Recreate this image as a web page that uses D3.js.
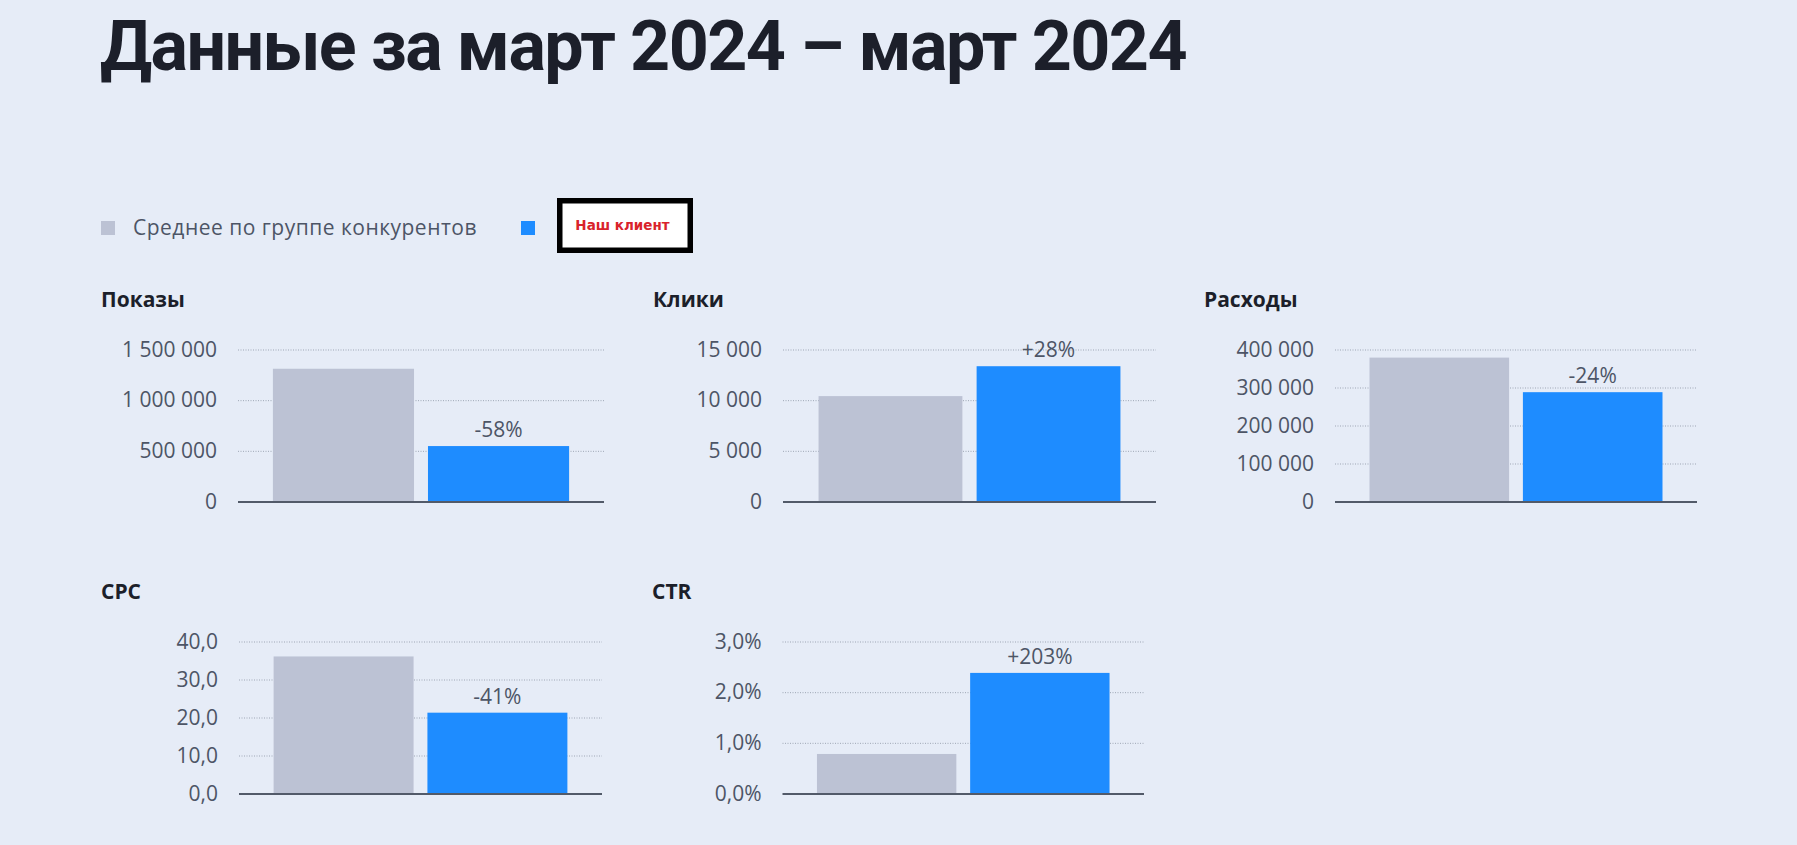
<!DOCTYPE html>
<html>
<head>
<meta charset="utf-8">
<script src="https://cdn.jsdelivr.net/npm/d3@7"></script>
<style>
  html, body { margin: 0; padding: 0; background: #e6ecf7; }
  svg { display: block; }
</style>
</head>
<body>
<svg id="chart" width="1797" height="845"></svg>
<script>
// ---------- DATA ----------
const pageTitle = "Данные за март 2024 – март 2024";
const seriesNames = ["Среднее по группе конкурентов", "Наш клиент"];
const metrics = ["Показы", "Клики", "Расходы", "CPC", "CTR"];
const competitorValues = [1315000, 10450, 380000, 36.2, 0.79];
const clientValues = [552000, 13400, 289000, 21.4, 2.39];
const changeLabels = ["-58%", "+28%", "-24%", "-41%", "+203%"];
const tickValues = [
  [0, 500000, 1000000, 1500000],
  [0, 5000, 10000, 15000],
  [0, 100000, 200000, 300000, 400000],
  [0, 10, 20, 30, 40],
  [0, 1, 2, 3]
];
const tickKinds = ["int", "int", "int", "dec", "pct"];

// ---------- LAYOUT ----------
const layout = [
  { left: 238, right: 604, top: 350, bottom: 502, titleX: 101, titleY: 307 },
  { left: 783, right: 1156, top: 350, bottom: 502, titleX: 653, titleY: 307 },
  { left: 1335, right: 1697, top: 350, bottom: 502, titleX: 1204, titleY: 307 },
  { left: 239, right: 602, top: 642, bottom: 794, titleX: 101, titleY: 599 },
  { left: 782.5, right: 1144, top: 642, bottom: 794, titleX: 652, titleY: 599 }
];
const colors = { competitor: "#bcc2d4", client: "#1e8cff", text: "#4d5566", title: "#1c1f2a", grid: "#9ea6b5", axis: "#525a69" };
const font = "'Open Sans', 'Noto Sans', sans-serif";

const ru = d3.formatLocale({ decimal: ",", thousands: "\u00a0", grouping: [3], currency: ["", " ₽"] });
const fmt = {
  int: ru.format(",d"),
  dec: ru.format(",.1f"),
  pct: v => ru.format(",.1f")(v) + "%"
};

// stretch/squeeze a text to a measured width by letter-spacing
function fitWidth(sel, target) {
  const node = sel.node();
  const w = node.getComputedTextLength();
  const n = sel.text().length;
  if (n > 1) sel.attr("letter-spacing", (target - w) / n);
}

const svg = d3.select("#chart");

// Title
const title = svg.append("text")
  .attr("x", 100).attr("y", 70)
  .attr("font-family", "Roboto, 'Open Sans', sans-serif").attr("font-weight", 700)
  .attr("font-size", 70)
  .attr("fill", colors.title)
  .text(pageTitle);
fitWidth(title, 1086);

// Legend
const lg = svg.append("g");
lg.append("rect").attr("x", 101).attr("y", 221).attr("width", 14).attr("height", 14).attr("fill", colors.competitor);
const legText = lg.append("text").attr("x", 133).attr("y", 235)
  .attr("font-family", font).attr("font-size", 21).attr("fill", colors.text)
  .text(seriesNames[0]);
fitWidth(legText, 344);
lg.append("rect").attr("x", 521).attr("y", 221).attr("width", 14).attr("height", 14).attr("fill", colors.client);
lg.append("rect").attr("x", 559.75).attr("y", 200.75).attr("width", 130.5).attr("height", 49.5)
  .attr("fill", "#ffffff").attr("stroke", "#000000").attr("stroke-width", 5.5);
lg.append("text").attr("x", 622.5).attr("y", 230).attr("text-anchor", "middle")
  .attr("font-family", "'DejaVu Sans', sans-serif").attr("font-weight", 700)
  .attr("font-size", 13.5).attr("fill", "#d9232b")
  .text(seriesNames[1]);

// Panels
metrics.forEach((name, i) => {
  const L = layout[i];
  const g = svg.append("g");
  const ticks = tickValues[i];
  const y = d3.scaleLinear().domain([0, d3.max(ticks)]).range([L.bottom, L.top]);
  const x = d3.scaleBand().domain([0, 1]).range([L.left, L.right]).paddingInner(0.09).paddingOuter(0.225);

  g.append("text").attr("x", L.titleX).attr("y", L.titleY)
    .attr("font-family", font).attr("font-weight", 700).attr("font-size", 21)
    .attr("fill", colors.title).text(name);

  // grid
  g.append("g").selectAll("line").data(ticks.filter(t => t !== 0)).join("line")
    .attr("x1", L.left).attr("x2", L.right)
    .attr("y1", d => y(d)).attr("y2", d => y(d))
    .attr("stroke", colors.grid).attr("stroke-width", 1).attr("stroke-dasharray", "1 1.5");

  // y axis labels
  const axis = d3.axisLeft(y).tickValues(ticks).tickFormat(fmt[tickKinds[i]]).tickSize(0).tickPadding(21);
  const ag = g.append("g").attr("transform", `translate(${L.left},0)`).call(axis);
  ag.select(".domain").remove();
  ag.selectAll("text").attr("font-family", font).attr("font-size", 21).attr("fill", colors.text).attr("dy", "0.3em");

  const vals = [competitorValues[i], clientValues[i]];
  g.append("g").selectAll("rect").data(vals).join("rect")
    .attr("x", (d, k) => x(k)).attr("width", x.bandwidth())
    .attr("y", d => y(d)).attr("height", d => y(0) - y(d))
    .attr("fill", (d, k) => k === 0 ? colors.competitor : colors.client);

  // baseline axis
  g.append("line").attr("x1", L.left).attr("x2", L.right)
    .attr("y1", y(0)).attr("y2", y(0))
    .attr("stroke", colors.axis).attr("stroke-width", 2);

  // change label
  g.append("text").attr("x", x(1) + x.bandwidth() / 2).attr("y", y(clientValues[i]) - 9)
    .attr("text-anchor", "middle").attr("font-family", font).attr("font-size", 21)
    .attr("fill", colors.text).text(changeLabels[i]);
});
</script>
</body>
</html>
